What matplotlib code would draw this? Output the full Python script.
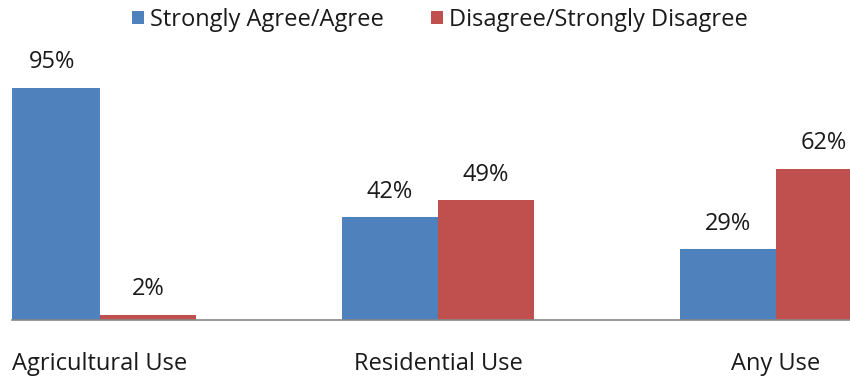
import matplotlib
matplotlib.use("Agg")
import matplotlib.pyplot as plt
import numpy as np

plt.rcParams['font.family'] = ['Open Sans', 'DejaVu Sans']

categories = ["Agricultural Use", "Residential Use", "Any Use"]
agree = [95, 42, 29]
disagree = [2, 49, 62]
series_names = ["Strongly Agree/Agree", "Disagree/Strongly Disagree"]
colors = ["#4F81BD", "#C0504D"]

fig = plt.figure(figsize=(8.5, 3.76), dpi=100)
ax = fig.add_axes([12 / 850, 56 / 376, 838 / 850, 320 / 376])

x = np.arange(len(categories))
w = 96 / 338
b1 = ax.bar(x - w / 2, agree, w, color=colors[0], label=series_names[0])
b2 = ax.bar(x + w / 2, disagree, w, color=colors[1], label=series_names[1])

# value labels above each bar
for bars, vals in ((b1, agree), (b2, disagree)):
    for bar, v in zip(bars, vals):
        ax.annotate(f"{v}%", (bar.get_x() + bar.get_width() / 2, v),
                    xytext=(0, 18.5), textcoords="offset points",
                    ha="center", va="center", fontsize=17, color="#1a1a1a")

ax.set_xlim(-88 / 338, 750 / 338)
ax.set_ylim(0, 131.1)
ax.set_xticks(x)
ax.set_xticklabels(categories, fontsize=17, color="#1a1a1a")
ax.tick_params(axis="x", length=0, pad=23)
ax.set_yticks([])
for s in ("top", "right", "left"):
    ax.spines[s].set_visible(False)
ax.spines["bottom"].set_color("#868686")
ax.spines["bottom"].set_linewidth(1.2)

fig.legend(loc="center", bbox_to_anchor=(440 / 850, 1 - 20 / 376), ncol=2,
           frameon=False, fontsize=17, handlelength=0.5, handleheight=0.5,
           handletextpad=0.25, columnspacing=2.0, labelcolor="#1a1a1a")

fig.savefig("out.png", dpi=100)
